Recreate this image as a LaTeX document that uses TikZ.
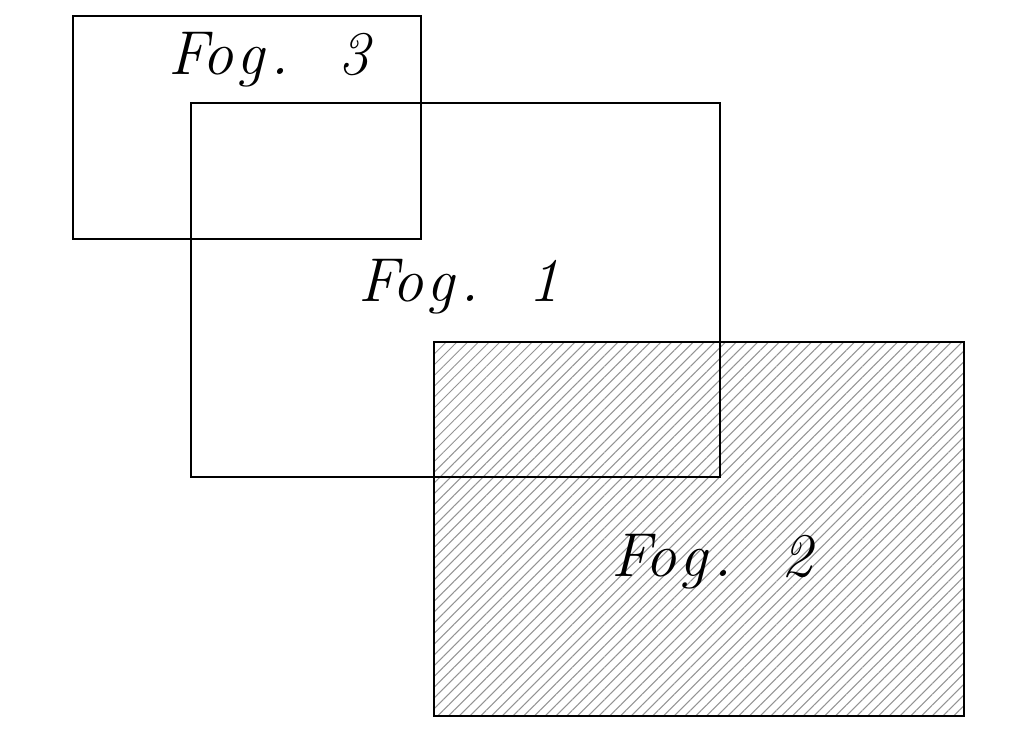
\documentclass[tikz,border=0pt]{standalone}
\usetikzlibrary{patterns.meta}
\newcommand{\cellch}[1]{\makebox[8.5pt][l]{#1}}
\newcommand{\foglabel}[1]{\cellch{F}\cellch{o}\cellch{g}\cellch{.}\cellch{}\cellch{#1}}
\begin{document}
\begin{tikzpicture}[x=0.25pt,y=-0.25pt,
  box/.style={draw=black,line width=0.5pt},
  hatch/.style={pattern={Lines[angle=45,distance=1.9pt,line width=0.25pt]},pattern color=gray!85},
  lbl/.style={inner sep=0pt,anchor=base west,font=\fontsize{15.5}{18}\selectfont\itshape}]
\useasboundingbox (0,0) rectangle (1017,756);
\fill[hatch] (434,342) rectangle (964,716);
\draw[box] (73,16) rectangle (421,239);
\draw[box] (191,103) rectangle (720,477);
\draw[box] (434,342) rectangle (964,716);
\node[lbl] (l3) at (168,75) {\foglabel{3}};
\node[lbl] (l1) at (358,302) {\foglabel{1}};
\node[lbl] (l2) at (611,577) {\foglabel{2}};
\end{tikzpicture}
\end{document}
